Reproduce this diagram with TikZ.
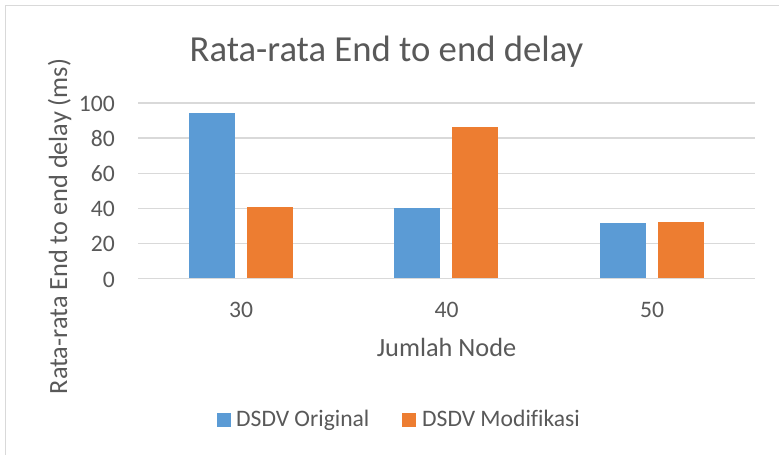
\documentclass[tikz,border=0pt]{standalone}
\usepackage{fontspec}
\setmainfont{Carlito}[Ligatures=NoCommon]
\definecolor{txtgrey}{HTML}{595959}
\definecolor{gridgrey}{HTML}{D9D9D9}
\definecolor{frame}{HTML}{D9D9D9}
\definecolor{seriesA}{HTML}{5B9BD5}
\definecolor{seriesB}{HTML}{ED7D31}
\tikzset{
  lbl/.style={inner sep=0pt, text=txtgrey},
  titlefont/.style={lbl, font=\fontsize{36.7}{40}\selectfont},
  axisfont/.style={lbl, font=\fontsize{26.3}{30}\selectfont},
  tickfont/.style={lbl, font=\fontsize{23.6}{27}\selectfont},
  gridline/.style={draw=gridgrey, line width=1.5pt},
  barA/.style={fill=seriesA},
  barB/.style={fill=seriesB},
}
\begin{document}
\begin{tikzpicture}[x=1pt,y=-1pt]
  \useasboundingbox (0,0) rectangle (779,455);
  \fill[white] (0,0) rectangle (779,455);
  % chart frame (only left and top edges fall inside the page)
  \draw[frame, line width=1pt] (5,460) -- (5,5) -- (785,5);

  % title
  \node[titlefont, anchor=base] (title) at (386.5,61.7) {Rata-rata End to end delay};

  % horizontal gridlines and value labels
  \foreach \k/\v in {0/0,1/20,2/40,3/60,4/80,5/100}{
    \pgfmathsetmacro{\yy}{278.7-35.14*\k}
    \draw[gridline] (138,\yy) -- (755,\yy);
    \node[tickfont, anchor=east] (tick\k) at (115,\yy+0.8) {\v};
  }

  % bars: value -> pixel height 1.757 per unit
  \foreach \xa/\va/\vb [count=\i] in {189/94.3/40.9, 394/40.3/86.5, 600/31.6/32.5}{
    \fill[barA] (\xa,278.7) rectangle ++(46,-1.757*\va);
    \fill[barB] (\xa+58,278.7) rectangle ++(46,-1.757*\vb);
  }
  \draw[gridline] (138,278.7) -- (755,278.7);

  % category labels
  \node[tickfont, anchor=base] (c30) at (241,317.7) {30};
  \node[tickfont, anchor=base] (c40) at (446.5,317.7) {40};
  \node[tickfont, anchor=base] (c50) at (652,317.7) {50};

  % axis titles
  \node[axisfont, anchor=base] (xtitle) at (446.5,356.7) {Jumlah Node};
  \node[axisfont, anchor=base, rotate=90] (ytitle) at (67,226.5) {Rata-rata End to end delay (ms)};

  % legend
  \fill[barA] (217,412.7) rectangle (231,426.7);
  \node[tickfont, anchor=base west] (legA) at (236,426.7) {DSDV Original};
  \fill[barB] (402,412.7) rectangle (416,426.7);
  \node[tickfont, anchor=base west] (legB) at (422,426.7) {DSDV Modifikasi};
\end{tikzpicture}
\end{document}
